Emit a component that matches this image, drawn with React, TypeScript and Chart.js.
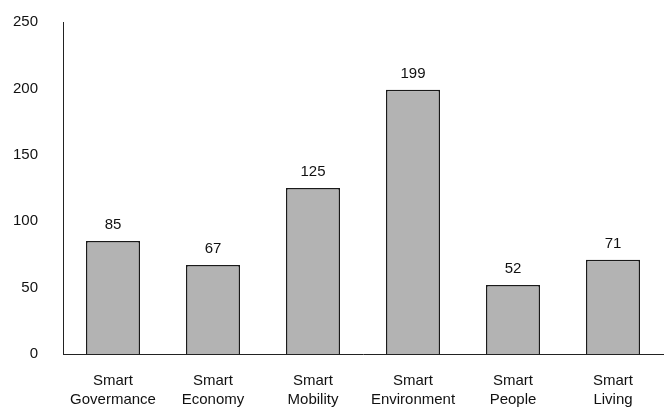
import React, { useEffect, useRef } from "react";
import { Chart, registerables } from "chart.js";

Chart.register(...registerables);

const categories: string[][] = [
  ["Smart", "Govermance"],
  ["Smart", "Economy"],
  ["Smart", "Mobility"],
  ["Smart", "Environment"],
  ["Smart", "People"],
  ["Smart", "Living"],
];
const values: number[] = [85, 67, 125, 199, 52, 71];
const yMin = 0;
const yMax = 250;
const yStep = 50;

const FONT = "'Liberation Sans', Arial, sans-serif";

const valueLabels = {
  id: "valueLabels",
  afterDatasetsDraw(chart: any) {
    const ctx = chart.ctx;
    const meta = chart.getDatasetMeta(0);
    ctx.save();
    ctx.font = `15px ${FONT}`;
    ctx.fillStyle = "#111";
    ctx.textAlign = "center";
    ctx.textBaseline = "alphabetic";
    meta.data.forEach((bar: any, i: number) => {
      ctx.fillText(String(values[i]), bar.x, bar.y - 12);
    });
    ctx.restore();
  },
};

export default function App() {
  const ref = useRef<HTMLCanvasElement | null>(null);
  useEffect(() => {
    if (!ref.current) return;
    const chart = new Chart(ref.current, {
      type: "bar",
      data: {
        labels: categories,
        datasets: [
          {
            data: values,
            backgroundColor: "#b3b3b3",
            borderColor: "#1a1a1a",
            borderWidth: 1.5,
            barPercentage: 0.54,
            categoryPercentage: 1,
          },
        ],
      },
      options: {
        animation: false,
        responsive: false,
        maintainAspectRatio: false,
        layout: { padding: { top: 22, right: 1, left: 0, bottom: 0 } },
        plugins: { legend: { display: false }, tooltip: { enabled: false } },
        scales: {
          x: {
            grid: { display: false, drawTicks: false },
            border: { display: true, color: "#222", width: 1 },
            ticks: {
              color: "#111",
              font: { family: FONT, size: 15, lineHeight: 1.3 },
              padding: 17,
              maxRotation: 0,
              autoSkip: false,
            },
            afterFit: (s: any) => {
              s.height = 53;
              s.paddingLeft = 0;
              s.paddingRight = 0;
              s.paddingTop = 0;
              s.paddingBottom = 0;
            },
          },
          y: {
            min: yMin,
            max: yMax,
            grid: { display: false, drawTicks: false },
            border: { display: true, color: "#222", width: 1 },
            ticks: {
              stepSize: yStep,
              color: "#111",
              font: { family: FONT, size: 15 },
              padding: 25,
            },
            afterFit: (s: any) => {
              s.width = 63;
              s.paddingTop = 0;
              s.paddingBottom = 0;
              s.paddingLeft = 0;
              s.paddingRight = 0;
            },
          },
        },
      },
      plugins: [valueLabels],
    });
    return () => chart.destroy();
  }, []);
  return (
    <div style={{ position: "fixed", left: 0, top: 0, width: 664, height: 407, background: "#fff" }}>
      <canvas ref={ref} width={664} height={407} style={{ width: 664, height: 407 }} />
    </div>
  );
}
